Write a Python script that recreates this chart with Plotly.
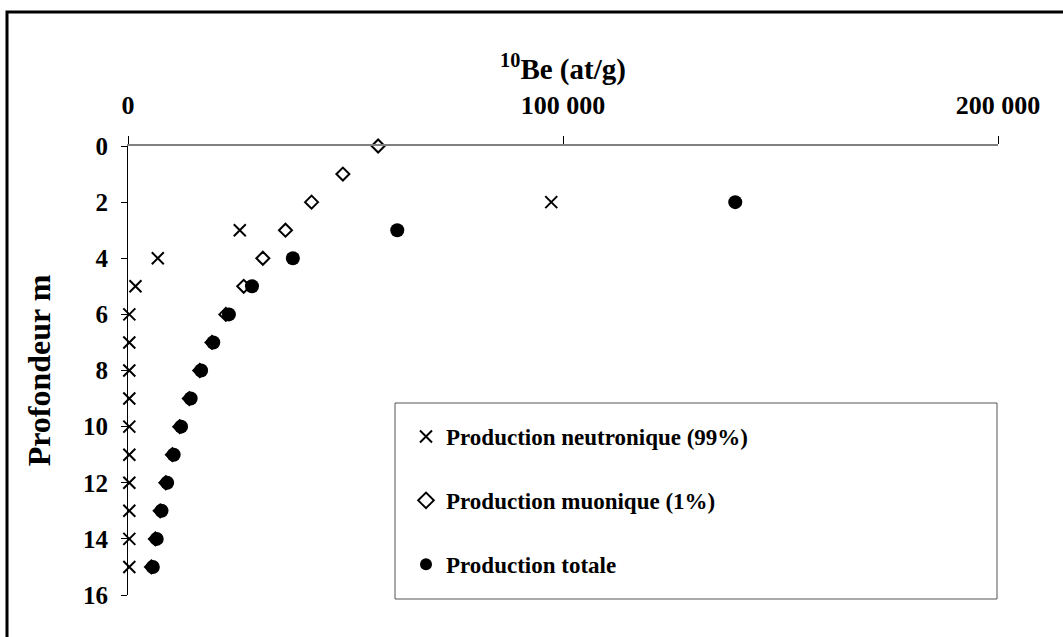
import plotly.graph_objects as go

# Data (depth in m, 10Be concentration in at/g)
depth = list(range(0, 16))
neutron = [None, None, 97300, 25700, 6850, 1720, 300, 300, 300, 300, 300, 300, 300, 300, 300, 300]
muon = [57500, 49400, 42200, 36200, 31000, 26600, 22500, 19300, 16500, 14100, 11900, 10200, 8700, 7400, 6300, 5400]
total = [None, None, 139600, 61900, 37900, 28500, 23200, 19600, 16800, 14400, 12200, 10500, 9000, 7700, 6600, 5700]

x_tickvals = [0, 100000, 200000]
x_ticktext = ["0", "100 000", "200 000"]
y_tickvals = list(range(0, 17, 2))

names = ["Production neutronique (99%)", "Production muonique (1%)", "Production totale"]

FONT = "Liberation Serif"

fig = go.Figure()
fig.add_trace(go.Scatter(x=neutron, y=depth, mode="markers", name=names[0], legendgroup="a",
                         cliponaxis=False,
                         marker=dict(symbol="x-thin", size=12, color="black",
                                     line=dict(width=2, color="black"))))
fig.add_trace(go.Scatter(x=muon, y=depth, mode="markers", name=names[1], legendgroup="b",
                         cliponaxis=False,
                         marker=dict(symbol="diamond-open", size=10, color="black",
                                     line=dict(width=2, color="black"))))
fig.add_trace(go.Scatter(x=total, y=depth, mode="markers", name=names[2], legendgroup="c",
                         cliponaxis=False,
                         marker=dict(symbol="circle", size=14, color="black")))

L, R, T, B = 128, 65, 146, 42
W, H = 1063, 637
pw = W - L - R
ph = H - T - B

def px(xpix):
    return (xpix - L) / pw

def py(ypix):
    return (H - B - ypix) / ph

fig.update_layout(
    width=W, height=H,
    margin=dict(l=L, r=R, t=T, b=B),
    paper_bgcolor="white", plot_bgcolor="white",
    font=dict(family=FONT, color="black", size=24, weight="bold"),
    showlegend=True,
    legend=dict(x=px(406), y=py(415), xanchor="left", yanchor="top",
                bgcolor="rgba(0,0,0,0)", borderwidth=0,
                font=dict(family=FONT, size=23, color="black", weight="bold"),
                tracegroupgap=31, itemsizing="constant"),
    xaxis=dict(side="top", range=[0, 200000], tickvals=x_tickvals, ticktext=x_ticktext,
               showline=True, linecolor="#808080", linewidth=1.5, mirror=False,
               ticks="outside", ticklen=8, tickcolor="black", tickwidth=1,
               showgrid=False, zeroline=False, ticklabelstandoff=12,
               tickfont=dict(family=FONT, size=26, weight="bold"),
               title=dict(text="<sup>10</sup>Be (at/g)", standoff=3,
                          font=dict(family=FONT, size=29, weight="bold"))),
    yaxis=dict(range=[16, 0], tickvals=y_tickvals,
               showline=True, linecolor="black", linewidth=1,
               ticks="outside", ticklen=6, tickcolor="black", tickwidth=1,
               showgrid=False, zeroline=False, ticklabelstandoff=8,
               tickfont=dict(family=FONT, size=25, weight="bold"),
               title=dict(text="Profondeur m", standoff=22,
                          font=dict(family=FONT, size=32, weight="bold"))),
    shapes=[
        dict(type="rect", xref="paper", yref="paper",
             x0=px(7), x1=px(1100), y0=py(680), y1=py(12),
             line=dict(color="black", width=3), fillcolor="rgba(0,0,0,0)", layer="above"),
        dict(type="rect", xref="paper", yref="paper",
             x0=px(395), x1=px(997), y0=py(599), y1=py(403),
             line=dict(color="#555555", width=1), fillcolor="rgba(0,0,0,0)", layer="below"),
    ],
)

fig.write_html("out.html", config={"displayModeBar": False},
               post_script="document.body.style.margin='0px';")
